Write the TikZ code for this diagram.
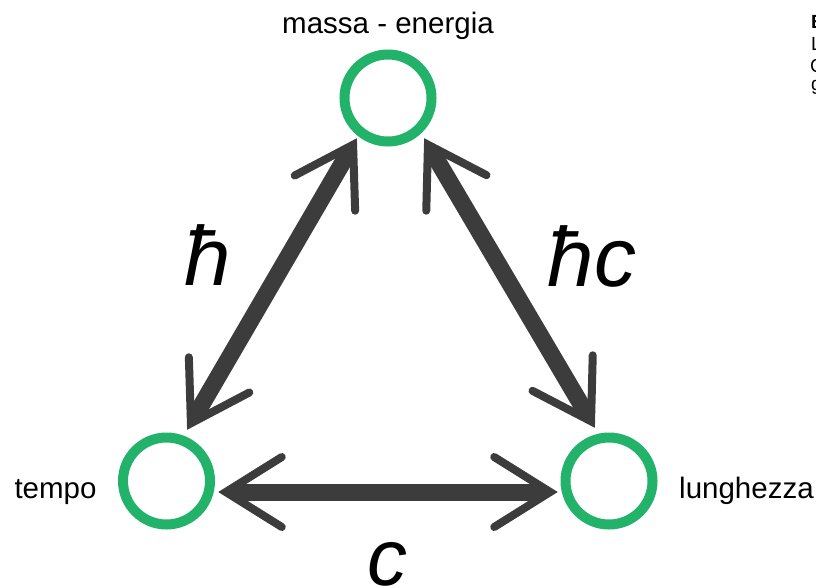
\documentclass[tikz,border=0pt]{standalone}
\usepackage{fontspec}
\setmainfont{Liberation Sans}
\usetikzlibrary{calc}
\definecolor{ringgreen}{RGB}{34,178,106}
\definecolor{arrowgray}{RGB}{60,60,60}
\tikzset{
  ring/.style={circle, draw=ringgreen, line width=10pt, minimum size=87pt, inner sep=0pt},
  shaft/.style={draw=arrowgray, line width=17pt},
  barb/.style={draw=arrowgray, line width=8pt, line cap=round, line join=miter},
  lbl/.style={font=\fontsize{29.5}{30}\selectfont, inner sep=0pt, anchor=base},
  sym/.style={font=\fontsize{84}{86}\selectfont\itshape, inner sep=0pt, anchor=base},
  csym/.style={font=\fontsize{80}{82}\selectfont\itshape, inner sep=0pt, anchor=base},
  cut/.style={font=\fontsize{19}{21}\selectfont, inner sep=0pt, anchor=base west},
}
\newcommand\headat[2]{%
  \coordinate (#1v) at ($(#1)!7.8pt!(#2)$);
  \draw[barb] ($(#1v)!66pt!32:(#2)$) -- (#1v) -- ($(#1v)!66pt!-32:(#2)$);
}
\newcommand\twohead[2]{%
  \draw[shaft] ($(#1)!14pt!(#2)$) -- ($(#2)!14pt!(#1)$);
  \headat{#1}{#2}
  \headat{#2}{#1}
}
\begin{document}
\begin{tikzpicture}[x=1pt,y=-1pt]
\useasboundingbox (0,0) rectangle (816,587);
% rings
\node[ring] (m) at (388,98) {};
\node[ring] (t) at (166.5,481) {};
\node[ring] (l) at (609,481) {};
% labels
\node[lbl] (mlab) at (388,33) {massa - energia};
\node[lbl] (tlab) at (55.5,498) {tempo};
\node[lbl, anchor=base west] (llab) at (679,498) {lunghezza};
% connector end points
\coordinate (mL) at ($(m)+(-31,40)$);
\coordinate (tT) at ($(t)+(20.5,-51)$);
\coordinate (mR) at ($(m)+(36,40)$);
\coordinate (lT) at ($(l)+(-14,-53)$);
\coordinate (tR) at ($(t)+(51.5,11)$);
\coordinate (lL) at ($(l)+(-51,11)$);
\twohead{mL}{tT}
\twohead{mR}{lT}
\twohead{tR}{lL}
% constants
\node[sym] (hbar) at (208,285) {ħ};
\node[sym] (hbarc) at (592,286) {ħc};
\node[csym] (cc) at (387,585) {c};
% clipped side text
\node[cut, font=\fontsize{19}{21}\selectfont\bfseries] (s1) at (811,28) {B};
\node[cut] (s2) at (811,50) {L};
\node[cut] (s3) at (810,72) {C};
\node[cut] (s4) at (811,90) {g};
\end{tikzpicture}
\end{document}
